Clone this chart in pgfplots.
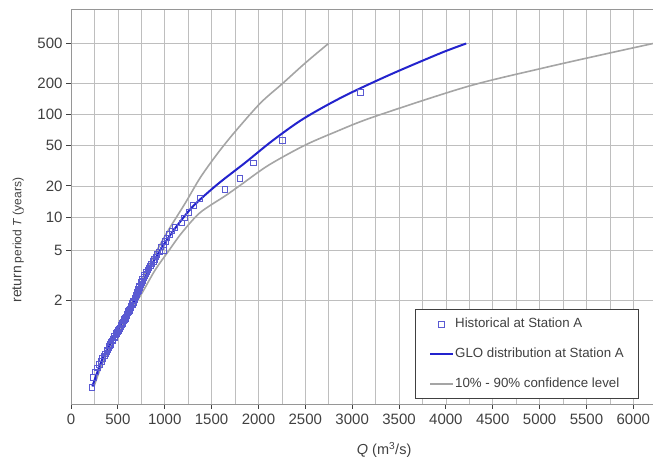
\documentclass[border=0pt]{standalone}
\usepackage{fontspec}
\setmainfont{Liberation Sans}
\usepackage{pgfplots}
\pgfplotsset{compat=1.18}
\definecolor{txt}{RGB}{64,64,64}
\definecolor{gridc}{RGB}{190,190,190}
\definecolor{axc}{RGB}{150,150,150}
\definecolor{glo}{RGB}{35,35,205}
\definecolor{hist}{RGB}{90,90,210}
\definecolor{conf}{RGB}{165,165,165}

\pgfplotsset{
  linelegend/.style={legend image code/.code={\draw[##1] (0bp,0bp) -- (23bp,0bp);}},
  marklegend/.style={legend image code/.code={\draw[mark repeat=2,mark phase=2,##1] plot coordinates {(0bp,0bp) (11.5bp,0bp) (23bp,0bp)};}},
}

% historical sample: Q (m3/s) vs Gumbel reduced variate
\pgfplotstableread{
Q y
221 -1.625
238 -1.400
262 -1.270
283 -1.173
305 -1.093
327 -1.024
338 -0.963
357 -0.907
366 -0.856
382 -0.808
390 -0.763
404 -0.719
408 -0.678
420 -0.639
426 -0.600
442 -0.563
446 -0.527
460 -0.492
466 -0.457
480 -0.423
486 -0.390
498 -0.358
503 -0.325
516 -0.293
520 -0.262
532 -0.230
536 -0.200
548 -0.169
553 -0.138
565 -0.108
568 -0.078
580 -0.047
584 -0.017
595 0.013
598 0.043
609 0.074
612 0.104
624 0.135
628 0.165
638 0.195
641 0.226
652 0.257
655 0.288
666 0.320
668 0.351
680 0.384
682 0.416
692 0.449
695 0.482
705 0.516
708 0.550
718 0.584
720 0.619
730 0.655
733 0.691
744 0.728
748 0.765
760 0.804
763 0.843
777 0.883
783 0.924
798 0.966
806 1.009
822 1.054
833 1.100
850 1.147
860 1.196
877 1.247
888 1.299
907 1.354
918 1.411
942 1.470
986 1.500
960 1.580
990 1.640
1008 1.710
1022 1.780
1050 1.860
1075 1.940
1110 2.030
1182 2.130
1210 2.240
1260 2.370
1306 2.520
1377 2.690
1644 2.890
1804 3.140
1943 3.490
2253 4.000
3085 5.100
}\histdata

\begin{document}
\begin{tikzpicture}
\begin{axis}[
  scale only axis,
  width=582bp, height=395bp,
  xmin=0, xmax=6210,
  ymin=-2, ymax=7,
  axis lines*=left,
  axis line style={draw=axc, line width=0.9bp},
  xtick={0,500,...,6000},
  minor x tick num=1,
  ytick={0.3665,1.4999,2.2504,2.9702,3.9019,4.6001,5.2958,6.2136},
  yticklabels={2,5,10,20,50,100,200,500},
  grid=both,
  grid style={draw=gridc, line width=0.7bp},
  minor grid style={draw=gridc, line width=0.7bp},
  tick align=outside,
  major tick length=5bp, minor tick length=0pt,
  tick style={draw=txt, line width=0.9bp},
  tick label style={font=\fontsize{15bp}{17bp}\selectfont, text=txt},
  xticklabel style={yshift=-2bp},
  /pgf/number format/assume math mode=true,
  /pgf/number format/1000 sep={},
  xlabel={\textit{Q} (m\textsuperscript{3}/s)},
  xlabel style={at={(rel axis cs:0.538,0)}, anchor=center, yshift=-46bp,
    font=\fontsize{14.5bp}{16bp}\selectfont, text=txt},
  ylabel={{\fontsize{14bp}{15bp}\selectfont return} {\fontsize{12bp}{13bp}\selectfont period \textit{T} (years)}},
  ylabel style={at={(rel axis cs:0,0.415)}, anchor=center, yshift=53bp, text=txt},
  legend style={at={(rel axis cs:0.976,0.0127)}, anchor=south east,
    draw=txt, line width=0.6bp, fill=white,
    font=\fontsize{13.3bp}{15bp}\selectfont, text=txt,
    inner xsep=14bp, inner ysep=7bp, row sep=15bp,
    nodes={inner sep=1bp, text height=10bp, text depth=3bp}},
  legend cell align=left,
]
\coordinate (sw) at (rel axis cs:0,0);
\coordinate (ne) at (rel axis cs:1,1);

\addlegendimage{only marks, mark=square, draw=hist, mark size=2.8bp,
  mark options={line width=0.8bp}, marklegend}
\addlegendentry{Historical at Station A}
\addlegendimage{draw=glo, line width=2bp, linelegend}
\addlegendentry{GLO distribution at Station A}
\addlegendimage{draw=conf, line width=1.6bp, linelegend}
\addlegendentry{10\% - 90\% confidence level}

% 10% / 90% confidence curves
\addplot[forget plot, conf, line width=1.6bp, smooth] coordinates {
(235,-1.6) (330,-1.0) (455,-0.45) (585,0.05) (680,0.45) (755,0.82)
(879,1.35) (1039,1.96) (1217,2.57) (1377,3.15) (1550,3.67) (1733,4.16)
(2018,4.85) (2256,5.30) (2500,5.77) (2747,6.2136)};
\addplot[forget plot, conf, line width=1.6bp, smooth] coordinates {
(245,-1.6) (340,-1.05) (455,-0.55) (600,0.0) (755,0.52) (897,1.05)
(1039,1.48) (1182,1.90) (1377,2.36) (1644,2.74) (1804,2.98) (2100,3.43)
(2480,3.88) (2800,4.18) (3227,4.54) (4224,5.23) (5007,5.64) (5648,5.95)
(6210,6.2136)};

\addplot[forget plot, only marks, mark=square, draw=hist, mark size=2.8bp,
  mark options={line width=0.8bp}] table[x=Q, y=y] {\histdata};

% GLO fit
\addplot[forget plot, glo, line width=2bp, smooth] coordinates {
(228,-1.6) (330,-1.0) (450,-0.5) (580,0.0) (712,0.5) (820,1.0)
(950,1.5) (1110,2.0) (1300,2.5) (1560,3.0) (1860,3.5) (2150,4.0)
(2480,4.5) (2900,5.0) (3400,5.5) (3950,6.0) (4217,6.2136)};
\end{axis}
\draw[axc, line width=0.9bp] (sw |- ne) -- (ne);
\pgfresetboundingbox
\path ([xshift=-71bp,yshift=-58bp]sw) rectangle ([yshift=9bp]ne);
\end{tikzpicture}
\end{document}
